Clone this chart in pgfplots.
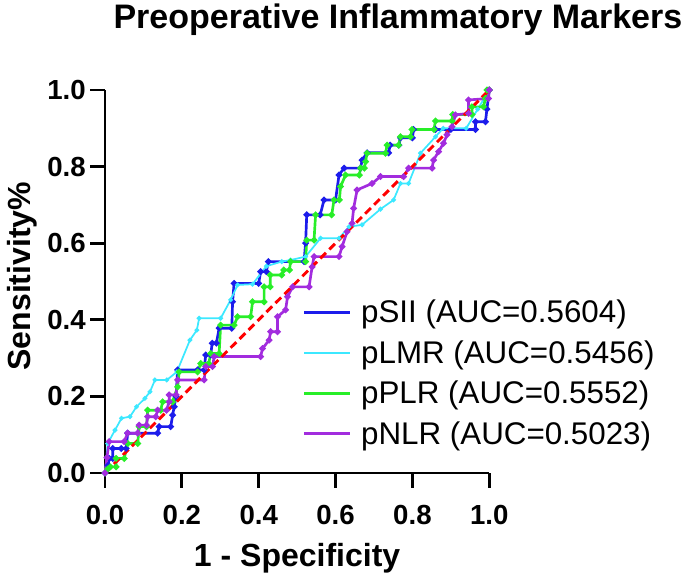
\documentclass[border=0pt]{standalone}
\usepackage{pgfplots}
\pgfplotsset{compat=1.18}
\usepackage{fontspec}
\setmainfont{Liberation Sans}

\definecolor{cSII}{RGB}{28,28,235}
\definecolor{cLMR}{RGB}{60,232,255}
\definecolor{cPLR}{RGB}{40,238,40}
\definecolor{cNLR}{RGB}{162,44,222}

\begin{document}
\begin{tikzpicture}
\begin{axis}[
  scale only axis,
  width=288.2pt, height=287.25pt,
  at={(0,0)}, anchor=south west,
  xmin=0, xmax=1, ymin=0, ymax=1,
  clip=false,
  axis x line*=bottom, axis y line*=left,
  axis line style={-, line width=2.2pt, black},
  xtick={0,0.2,0.4,0.6,0.8,1},
  ytick={0,0.2,0.4,0.6,0.8,1},
  tick align=outside,
  major tick length=11pt,
  tick style={line width=2.2pt, black},
  ticklabel style={font=\bfseries\fontsize{20.7}{24}\selectfont},
  xticklabel shift=9.5pt,
  /pgf/number format/fixed,
  /pgf/number format/fixed zerofill,
  /pgf/number format/precision=1,
  /pgf/number format/assume math mode=true,
  xlabel={1 - Specificity},
  xlabel style={at={(axis description cs:0.5,-0.2454)}, anchor=base,
    font=\bfseries\fontsize{24}{28}\selectfont},
  ylabel={Sensitivity\%},
  ylabel style={at={(axis description cs:-0.1926,0.514)}, anchor=base,
    font=\bfseries\fontsize{24}{28}\selectfont},
  title={Preoperative Inflammatory Markers},
  title style={at={(axis description cs:0.7624,1.140)}, anchor=base,
    font=\bfseries\fontsize{25.5}{30}\selectfont},
  legend cell align=left,
  legend style={at={(rel axis cs:0.515,0.452)}, anchor=north west,
    draw=none, fill=none, inner sep=0pt, row sep=11.8pt, column sep=7.5pt,
    nodes={inner sep=0pt},
    font=\fontsize{23.5}{28}\selectfont},
  legend image code/.code={\draw[#1] (0pt,0pt) -- (34pt,0pt);},
]

% pSII
\addplot[cSII, line width=2pt, mark=*, mark size=1.3pt] coordinates {
(0,0) (0.008,0.02) (0.011,0.038) (0.02,0.038) (0.02,0.064) (0.042,0.064)
(0.055,0.064) (0.059,0.104) (0.137,0.104) (0.141,0.121) (0.171,0.121)
(0.176,0.151) (0.18,0.173) (0.185,0.2) (0.189,0.269) (0.241,0.269)
(0.258,0.269) (0.262,0.308) (0.275,0.308) (0.279,0.339) (0.29,0.339)
(0.297,0.378) (0.33,0.378) (0.332,0.447) (0.336,0.495) (0.40,0.495)
(0.405,0.526) (0.42,0.526) (0.425,0.552) (0.518,0.552) (0.522,0.60)
(0.525,0.674) (0.56,0.674) (0.57,0.713) (0.60,0.713) (0.609,0.778)
(0.622,0.796) (0.665,0.796) (0.669,0.817) (0.682,0.836) (0.738,0.836)
(0.742,0.856) (0.765,0.856) (0.769,0.875) (0.80,0.875) (0.803,0.897)
(0.86,0.897) (0.90,0.897) (0.964,0.897) (0.964,0.917) (0.99,0.917)
(0.994,0.95) (1,1)
};
\addlegendentry{pSII (AUC=0.5604)}

% pLMR
\addplot[cLMR, line width=1.3pt, mark=*, mark size=1.1pt] coordinates {
(0,0) (0.007,0.077) (0.026,0.112) (0.043,0.143) (0.065,0.147)
(0.082,0.173) (0.104,0.195) (0.117,0.212) (0.13,0.243) (0.161,0.243)
(0.187,0.264) (0.221,0.347) (0.239,0.373) (0.245,0.404) (0.301,0.404)
(0.327,0.452) (0.345,0.491) (0.384,0.493) (0.42,0.54) (0.46,0.552)
(0.483,0.556) (0.522,0.565) (0.561,0.613) (0.609,0.613) (0.635,0.643)
(0.669,0.648) (0.717,0.689) (0.751,0.713) (0.769,0.756) (0.79,0.756)
(0.821,0.835) (0.86,0.878) (0.88,0.9) (0.94,0.9) (0.97,0.95) (1,1)
};
\addlegendentry{pLMR (AUC=0.5456)}

% pPLR
\addplot[cPLR, line width=2pt, mark=*, mark size=1.3pt] coordinates {
(0,0) (0.007,0.01) (0.014,0.016) (0.029,0.016) (0.029,0.038) (0.05,0.038)
(0.059,0.077) (0.085,0.077) (0.089,0.121) (0.108,0.121) (0.111,0.164)
(0.145,0.164) (0.15,0.186) (0.176,0.186) (0.189,0.225) (0.193,0.264)
(0.241,0.264) (0.249,0.286) (0.27,0.286) (0.275,0.312) (0.297,0.312)
(0.301,0.386) (0.336,0.386) (0.345,0.408) (0.379,0.408) (0.384,0.447)
(0.414,0.447) (0.414,0.486) (0.43,0.486) (0.43,0.517) (0.46,0.517)
(0.465,0.53) (0.48,0.53) (0.483,0.552) (0.522,0.552) (0.525,0.608)
(0.544,0.608) (0.548,0.674) (0.59,0.674) (0.596,0.713) (0.61,0.713)
(0.613,0.748) (0.626,0.778) (0.662,0.778) (0.665,0.796) (0.675,0.796)
(0.678,0.813) (0.682,0.835) (0.73,0.835) (0.734,0.856) (0.764,0.856)
(0.769,0.878) (0.795,0.878) (0.799,0.897) (0.856,0.897) (0.86,0.919)
(0.903,0.919) (0.905,0.936) (0.955,0.936) (0.955,0.956) (0.985,0.956)
(0.99,0.978) (0.994,1) (1,1)
};
\addlegendentry{pPLR (AUC=0.5552)}

% pNLR
\addplot[cNLR, line width=2pt, mark=*, mark size=1.3pt] coordinates {
(0,0) (0.005,0.04) (0.011,0.082) (0.05,0.082) (0.059,0.104) (0.085,0.104)
(0.089,0.125) (0.108,0.125) (0.111,0.147) (0.132,0.147) (0.137,0.164)
(0.16,0.164) (0.167,0.186) (0.167,0.204) (0.185,0.204) (0.189,0.243)
(0.258,0.243) (0.262,0.278) (0.28,0.278) (0.284,0.304) (0.405,0.304)
(0.41,0.325) (0.427,0.347) (0.431,0.369) (0.449,0.369) (0.449,0.408)
(0.47,0.426) (0.475,0.46) (0.488,0.486) (0.531,0.486) (0.539,0.538)
(0.544,0.565) (0.609,0.565) (0.617,0.591) (0.63,0.63) (0.643,0.652)
(0.647,0.691) (0.656,0.739) (0.695,0.756) (0.717,0.774) (0.777,0.774)
(0.79,0.796) (0.851,0.796) (0.855,0.817) (0.868,0.839) (0.881,0.861)
(0.89,0.883) (0.903,0.904) (0.912,0.935) (0.946,0.939) (0.946,0.974)
(0.998,0.978) (1,1)
};
\addlegendentry{pNLR (AUC=0.5023)}

% chance line
\addplot[red, line width=2.2pt, dash pattern=on 6pt off 3.5pt, forget plot]
  coordinates {(0,0) (1,1)};
\end{axis}
\pgfresetboundingbox
\path[use as bounding box] (-78.75pt,-79.5pt) rectangle (437.25pt,354.75pt);
\end{tikzpicture}
\end{document}
